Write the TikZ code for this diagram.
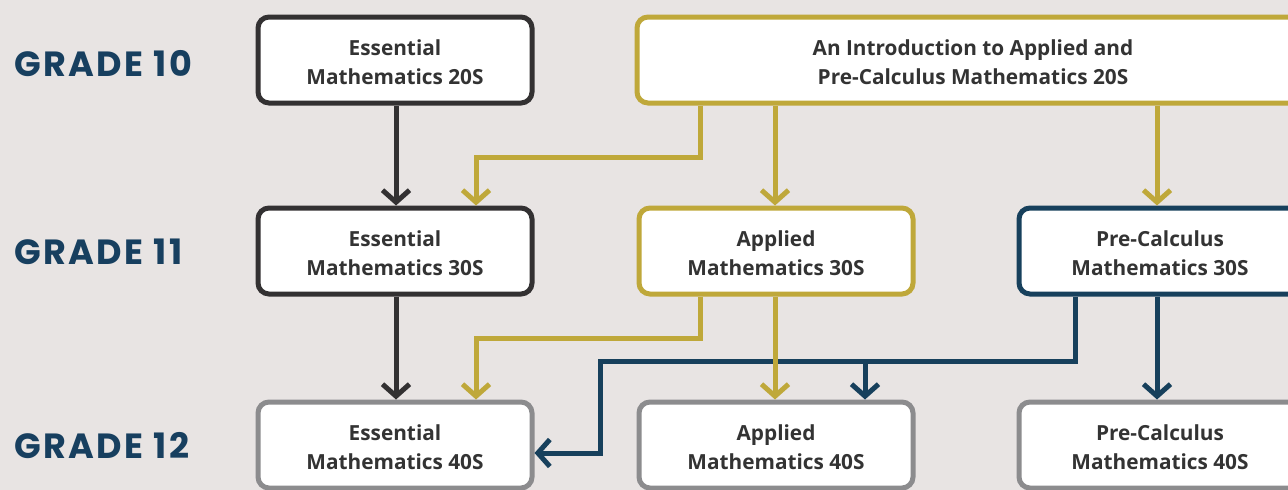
\documentclass[tikz,border=0pt]{standalone}
\usepackage{fontspec}
\setmainfont{Open Sans}
\newfontfamily\gradefont[LetterSpace=7]{Poppins}
\usetikzlibrary{arrows.meta}
\definecolor{bgcol}{HTML}{E8E4E3}
\definecolor{darkline}{HTML}{333132}
\definecolor{goldline}{HTML}{BFA83A}
\definecolor{navyline}{HTML}{17405C}
\definecolor{grayline}{HTML}{8C8C8E}
\definecolor{boxtext}{HTML}{333333}
\definecolor{gradecol}{HTML}{173F5F}
\tikzset{
  course/.style={draw, line width=5pt, rounded corners=11pt, fill=white,
    minimum height=86pt, align=center, text=boxtext,
    font=\fontsize{20.8}{28.5}\selectfont\bfseries, inner sep=0pt},
  narrow/.style={course, minimum width=274pt},
  wide/.style={course, minimum width=672pt},
  grade/.style={anchor=base west, inner sep=0pt, text=gradecol,
    font=\gradefont\bfseries\fontsize{35}{40}\selectfont},
  link/.style={line width=5pt, -{Straight Barb[length=12pt,width=27pt]}},
}
\begin{document}
\begin{tikzpicture}[x=1pt,y=-1pt]
\useasboundingbox (0,0) rectangle (1288,490);
\fill[bgcol] (0,0) rectangle (1288,490);

% grade labels
\node[grade] (g10) at (14,76) {GRADE 10};
\node[grade] (g11) at (14,264) {GRADE 11};
\node[grade] (g12) at (14,458) {GRADE 12};

% grade 10
\node[narrow, draw=darkline] (ess20) at (395,60) {\strut Essential\\Mathematics 20S};
\node[wide, draw=goldline] (intro) at (973,60) {\strut An Introduction to Applied and\\Pre-Calculus Mathematics 20S};

% grade 11
\node[narrow, draw=darkline] (ess30) at (395,251) {\strut Essential\\Mathematics 30S};
\node[narrow, draw=goldline] (app30) at (776,251) {\strut Applied\\Mathematics 30S};
\node[narrow, draw=navyline, minimum width=282pt] (pre30) at (1160,251) {\strut Pre-Calculus\\Mathematics 30S};

% grade 12
\node[narrow, draw=grayline] (ess40) at (395,445) {\strut Essential\\Mathematics 40S};
\node[narrow, draw=grayline] (app40) at (776,445) {\strut Applied\\Mathematics 40S};
\node[narrow, draw=grayline, minimum width=282pt] (pre40) at (1160,445) {\strut Pre-Calculus\\Mathematics 40S};

% bend points
\coordinate (ga) at (700,157);
\coordinate (gb) at (476,157);
\coordinate (gc) at (700,338);
\coordinate (gd) at (476,338);
\coordinate (na) at (1075,361);
\coordinate (nb) at (600,361);
\coordinate (nc) at (600,453);
\coordinate (nd) at (865,361);

% dark connectors
\draw[link, darkline] (ess20.south -| 396,0) -- (ess30.north -| 396,0);
\draw[link, darkline] (ess30.south -| 396,0) -- (ess40.north -| 396,0);

% navy connectors
\draw[link, navyline] (pre30.south -| na) -- (na) -- (nb) -- (nc) -- (ess40.east |- nc);
\draw[link, navyline] (nd) -- (app40.north -| nd);
\draw[link, navyline] (pre30.south -| 1157,0) -- (pre40.north -| 1157,0);

% gold connectors
\draw[link, goldline] (intro.south -| ga) -- (ga) -- (gb) -- (ess30.north -| gb);
\draw[link, goldline] (intro.south -| 775,0) -- (app30.north -| 775,0);
\draw[link, goldline] (intro.south -| 1157,0) -- (pre30.north -| 1157,0);
\draw[link, goldline] (app30.south -| gc) -- (gc) -- (gd) -- (ess40.north -| gd);
\draw[link, goldline] (app30.south -| 775,0) -- (app40.north -| 775,0);
\end{tikzpicture}
\end{document}
